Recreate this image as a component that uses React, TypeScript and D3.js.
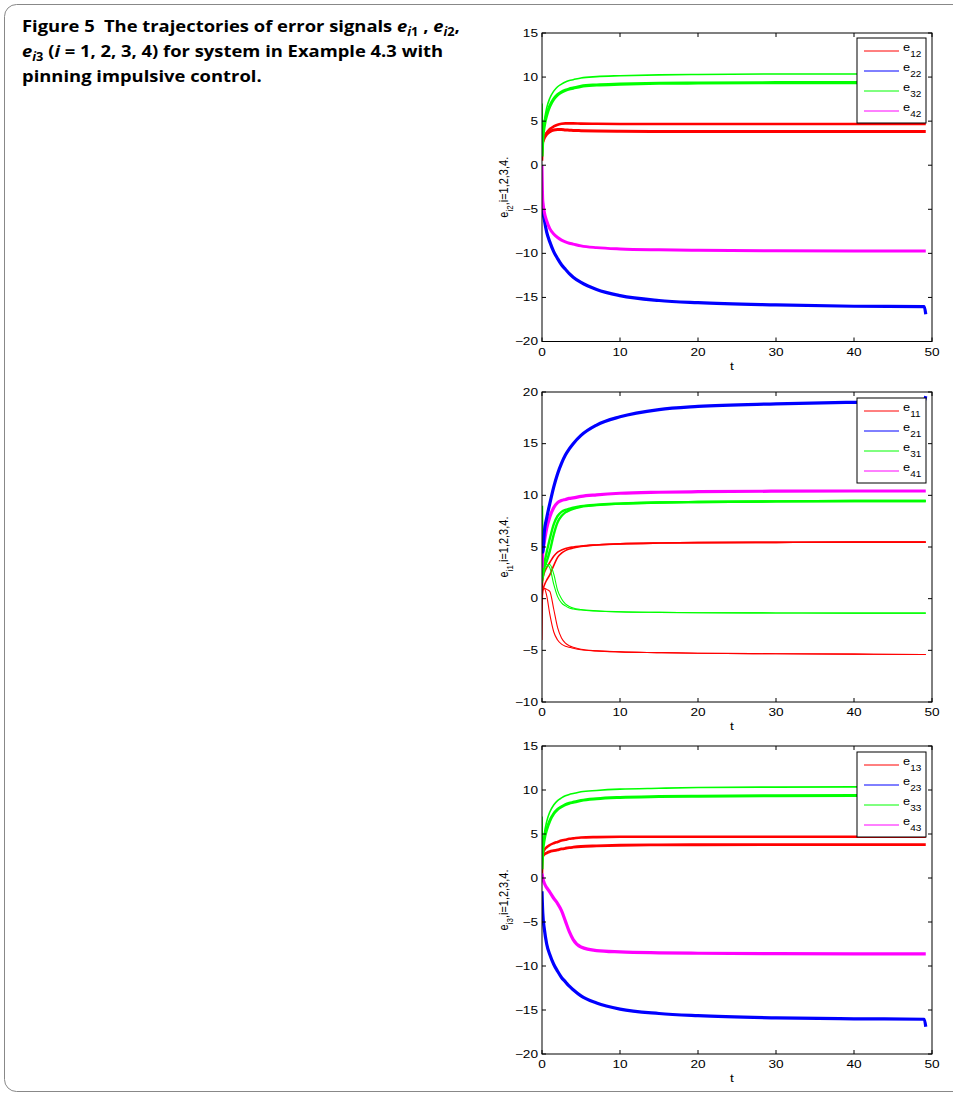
import React from "react";
import * as d3 from "d3";

// time samples shared by every trajectory
const T = [0, 0.1, 0.3, 0.6, 1, 1.5, 2, 2.5, 3, 3.5, 4, 5, 7, 10, 15, 20, 30, 40, 49, 49.2];
const xTicks = [0, 10, 20, 30, 40, 50];

// e_i2
const e12Upper = [0.5, 2.5, 3.2, 3.7, 4.1, 4.4, 4.6, 4.7, 4.75, 4.75, 4.75, 4.72, 4.7, 4.68, 4.67, 4.67, 4.67, 4.67, 4.67, 4.67];
const e12Lower = [3, 2.7, 3.1, 3.5, 3.8, 4.0, 4.05, 4.05, 4.0, 3.98, 3.95, 3.92, 3.88, 3.85, 3.83, 3.82, 3.82, 3.82, 3.82, 3.82];
const e22 = [-3, -5, -6.2, -7.6, -8.7, -9.8, -10.6, -11.3, -11.8, -12.3, -12.7, -13.3, -14.1, -14.8, -15.35, -15.6, -15.85, -16.0, -16.05, -16.9];
const e32Upper = [7, 3.5, 5, 6.5, 7.6, 8.4, 8.9, 9.2, 9.45, 9.6, 9.7, 9.9, 10.05, 10.15, 10.25, 10.3, 10.35, 10.35, 10.35, 10.35];
const e32Lower = [1, 3, 4.5, 5.7, 6.7, 7.5, 8.0, 8.3, 8.5, 8.65, 8.75, 8.95, 9.1, 9.2, 9.3, 9.33, 9.36, 9.38, 9.38, 9.38];
const e42 = [0, -4, -5.3, -6.3, -7.2, -7.8, -8.2, -8.5, -8.7, -8.85, -8.95, -9.15, -9.35, -9.5, -9.6, -9.65, -9.7, -9.72, -9.72, -9.72];

// e_i1
const e11UpperA = [1, 1.8, 2.5, 3.0, 3.5, 4.1, 4.5, 4.7, 4.85, 4.95, 5.0, 5.1, 5.2, 5.3, 5.38, 5.42, 5.45, 5.47, 5.47, 5.47];
const e11UpperB = [0, 0.8, 1.3, 1.8, 2.3, 3.2, 4.0, 4.4, 4.65, 4.8, 4.9, 5.05, 5.2, 5.3, 5.38, 5.42, 5.45, 5.47, 5.47, 5.47];
const e11LowerA = [-4, 0.8, 1.0, 0.3, -1.5, -3.2, -4.0, -4.4, -4.6, -4.7, -4.8, -4.95, -5.05, -5.15, -5.22, -5.28, -5.33, -5.37, -5.4, -5.4];
const e11LowerB = [0, 0.9, 1.0, 0.9, 0.7, -1.0, -2.8, -3.8, -4.3, -4.55, -4.7, -4.9, -5.05, -5.15, -5.22, -5.28, -5.33, -5.37, -5.4, -5.4];
const e21 = [5, 4.5, 6.5, 7.8, 9.2, 10.8, 12.1, 13.1, 13.9, 14.5, 15.0, 15.8, 16.8, 17.6, 18.3, 18.6, 18.85, 19.0, 19.1, 19.6];
const e31UpperA = [9, 3, 3.5, 4.5, 5.8, 7.2, 8.0, 8.4, 8.6, 8.7, 8.8, 8.95, 9.1, 9.2, 9.3, 9.35, 9.42, 9.45, 9.45, 9.45];
const e31UpperB = [2, 2.5, 3.0, 3.6, 4.6, 6.2, 7.4, 8.0, 8.35, 8.55, 8.7, 8.9, 9.05, 9.2, 9.3, 9.35, 9.42, 9.45, 9.45, 9.45];
const e31LowerA = [3, 2.5, 3.2, 3.3, 3.0, 1.4, 0.2, -0.4, -0.7, -0.9, -1.0, -1.1, -1.2, -1.28, -1.33, -1.36, -1.38, -1.4, -1.4, -1.4];
const e31LowerB = [1.5, 1.8, 2.6, 3.1, 3.3, 2.4, 0.8, 0, -0.5, -0.75, -0.9, -1.05, -1.18, -1.27, -1.33, -1.36, -1.38, -1.4, -1.4, -1.4];
const e41 = [3, 4.5, 5.5, 6.8, 7.9, 8.8, 9.3, 9.5, 9.6, 9.7, 9.75, 9.9, 10.05, 10.2, 10.3, 10.35, 10.4, 10.42, 10.42, 10.42];

// e_i3
const e13Upper = [0.5, 2.8, 3.2, 3.5, 3.75, 3.95, 4.1, 4.25, 4.35, 4.45, 4.5, 4.6, 4.65, 4.68, 4.68, 4.68, 4.68, 4.68, 4.68, 4.68];
const e13Lower = [3.5, 2.5, 2.7, 2.85, 3.0, 3.1, 3.2, 3.3, 3.38, 3.45, 3.5, 3.58, 3.65, 3.72, 3.76, 3.78, 3.8, 3.8, 3.8, 3.8];
const e23 = [-1.5, -4, -5.8, -7.5, -8.7, -9.8, -10.6, -11.3, -11.8, -12.3, -12.7, -13.4, -14.2, -14.9, -15.4, -15.65, -15.9, -16.0, -16.05, -16.9];
const e33Upper = [7, 3.2, 5, 6.4, 7.5, 8.3, 8.8, 9.1, 9.35, 9.5, 9.6, 9.8, 9.95, 10.1, 10.2, 10.28, 10.33, 10.35, 10.35, 10.35];
const e33Lower = [1, 3, 4.4, 5.5, 6.5, 7.3, 7.8, 8.1, 8.35, 8.5, 8.6, 8.8, 9.0, 9.15, 9.25, 9.3, 9.35, 9.37, 9.37, 9.37];
const e43 = [0.5, 0, -0.6, -1.1, -1.6, -2.3, -2.9, -3.7, -4.9, -6.1, -7.0, -7.85, -8.25, -8.4, -8.5, -8.55, -8.6, -8.62, -8.62, -8.62];

const RED = "#ff0000";
const BLUE = "#0000ff";
const GREEN = "#00ff00";
const MAGENTA = "#ff00ff";
const legendColors = [RED, BLUE, GREEN, MAGENTA];

const panels = [
  {
    sub: "i2", top: 33, bottom: 341.5, domain: [-20, 15], ticks: [-20, -15, -10, -5, 0, 5, 10, 15],
    legend: ["12", "22", "32", "42"], legendTop: 38,
    lines: [
      { v: e12Upper, c: RED, w: 2.6 }, { v: e12Lower, c: RED, w: 3 },
      { v: e32Upper, c: GREEN, w: 1.6 }, { v: e32Lower, c: GREEN, w: 3.2 },
      { v: e22, c: BLUE, w: 3.2 }, { v: e42, c: MAGENTA, w: 3 },
    ],
  },
  {
    sub: "i1", top: 392, bottom: 702, domain: [-10, 20], ticks: [-10, -5, 0, 5, 10, 15, 20],
    legend: ["11", "21", "31", "41"], legendTop: 398,
    lines: [
      { v: e11UpperA, c: RED, w: 1.6 }, { v: e11UpperB, c: RED, w: 1.6 },
      { v: e11LowerA, c: RED, w: 1.1 }, { v: e11LowerB, c: RED, w: 1.1 },
      { v: e31LowerA, c: GREEN, w: 1.1 }, { v: e31LowerB, c: GREEN, w: 1.1 },
      { v: e31UpperA, c: GREEN, w: 2.4 }, { v: e31UpperB, c: GREEN, w: 2.4 },
      { v: e41, c: MAGENTA, w: 3.2 }, { v: e21, c: BLUE, w: 3.2 },
    ],
  },
  {
    sub: "i3", top: 746, bottom: 1054, domain: [-20, 15], ticks: [-20, -15, -10, -5, 0, 5, 10, 15],
    legend: ["13", "23", "33", "43"], legendTop: 752,
    lines: [
      { v: e13Upper, c: RED, w: 2.6 }, { v: e13Lower, c: RED, w: 2.8 },
      { v: e33Upper, c: GREEN, w: 1.6 }, { v: e33Lower, c: GREEN, w: 3 },
      { v: e43, c: MAGENTA, w: 3.2 }, { v: e23, c: BLUE, w: 3.2 },
    ],
  },
];

const x = d3.scaleLinear().domain([0, 50]).range([542, 932]);
const AXIS_FONT = "'Liberation Sans', Arial, Helvetica, sans-serif";
const STRETCH = 1.3; // the figure's text is wider than it is tall
const fmt = (d: number) => (d < 0 ? "\u2212" + Math.abs(d) : String(d));

// text stretched horizontally about its anchor point
function WText({ x, y, anchor, dy, children }: any) {
  return (
    <text transform={`translate(${x},${y}) scale(${STRETCH},1)`} textAnchor={anchor} dy={dy}>
      {children}
    </text>
  );
}

function Panel({ p }: { p: any }) {
  const y = d3.scaleLinear().domain(p.domain).range([p.bottom, p.top]);
  const line = d3
    .line<number>()
    .x((_, i) => x(T[i]))
    .y((d) => y(d))
    .curve(d3.curveMonotoneX);
  const [x0, x1] = x.range();
  const mid = (p.top + p.bottom) / 2;
  const lx = 857;
  const ly = p.legendTop;
  return (
    <g fontFamily={AXIS_FONT} fontSize={10.5}>
      <defs>
        <clipPath id={"clip" + p.sub}>
          <rect x={x0} y={p.top} width={x1 - x0} height={p.bottom - p.top} />
        </clipPath>
      </defs>
      <g clipPath={`url(#clip${p.sub})`}>
        {p.lines.map((l: any, i: number) => (
          <path key={i} d={line(l.v) || ""} fill="none" stroke={l.c} strokeWidth={l.w} strokeLinejoin="round" />
        ))}
      </g>
      <rect x={x0} y={p.top} width={x1 - x0} height={p.bottom - p.top} fill="none" stroke="#000" strokeWidth={1} />
      {xTicks.map((t) => (
        <g key={"x" + t}>
          <line x1={x(t)} x2={x(t)} y1={p.bottom} y2={p.bottom - 4} stroke="#000" />
          <line x1={x(t)} x2={x(t)} y1={p.top} y2={p.top + 4} stroke="#000" />
          <WText x={x(t)} y={p.bottom + 14} anchor="middle">{t}</WText>
        </g>
      ))}
      {p.ticks.map((t: number) => (
        <g key={"y" + t}>
          <line x1={x0} x2={x0 + 4} y1={y(t)} y2={y(t)} stroke="#000" />
          <line x1={x1} x2={x1 - 4} y1={y(t)} y2={y(t)} stroke="#000" />
          <WText x={x0 - 4} y={y(t)} dy="0.36em" anchor="end">{fmt(t)}</WText>
        </g>
      ))}
      <WText x={(x0 + x1) / 2 - 5} y={p.bottom + 28} anchor="middle">t</WText>
      <text transform={`translate(508,${mid}) rotate(-90) scale(1,1.2)`} textAnchor="middle" fontSize={11}>
        e<tspan fontSize={8} dy={4}>{p.sub}</tspan>
        <tspan dy={-4}>,i=1,2,3,4.</tspan>
      </text>
      <rect x={lx} y={ly} width={69} height={85} fill="#fff" stroke="#000" strokeWidth={1} />
      {p.legend.map((s: string, i: number) => {
        const yy = ly + 13 + i * 20;
        return (
          <g key={s}>
            <line x1={864} x2={899} y1={yy} y2={yy} stroke={legendColors[i]} strokeWidth={1} />
            <text transform={`translate(903,${yy}) scale(1.22,1)`}>
              e<tspan fontSize={8.2} dy={6}>{s}</tspan>
            </text>
          </g>
        );
      })}
    </g>
  );
}

export default function App() {
  const cap = { fontFamily: "'Open Sans', 'Noto Sans', sans-serif", fontWeight: 700, fontSize: 16.5 };
  return (
    <svg width={953} height={1096} style={{ position: "absolute", left: 0, top: 0, display: "block" }}>
      <rect x={4.5} y={4.5} width={1000} height={1087} rx={12} fill="#fff" stroke="#888" strokeWidth={1} />
      <g style={cap} fill="#000" transform="translate(22,0) scale(1.115,1)">
        <text x={0} y={32}>
          Figure 5{"\u2002"}The trajectories of error signals <tspan fontStyle="italic">e</tspan>
          <tspan fontSize={11.5} dy={4}><tspan fontStyle="italic">i</tspan>1</tspan>
          <tspan dy={-4}> , </tspan>
          <tspan fontStyle="italic">e</tspan>
          <tspan fontSize={11.5} dy={4}><tspan fontStyle="italic">i</tspan>2</tspan>
          <tspan dy={-4}>,</tspan>
        </text>
        <text x={0} y={57}>
          <tspan fontStyle="italic">e</tspan>
          <tspan fontSize={11.5} dy={4}><tspan fontStyle="italic">i</tspan>3</tspan>
          <tspan dy={-4}> (</tspan>
          <tspan fontStyle="italic">i</tspan> = 1, 2, 3, 4) for system in Example 4.3 with
        </text>
        <text x={0} y={82}>pinning impulsive control.</text>
      </g>
      {panels.map((p) => (
        <Panel key={p.sub} p={p} />
      ))}
    </svg>
  );
}
